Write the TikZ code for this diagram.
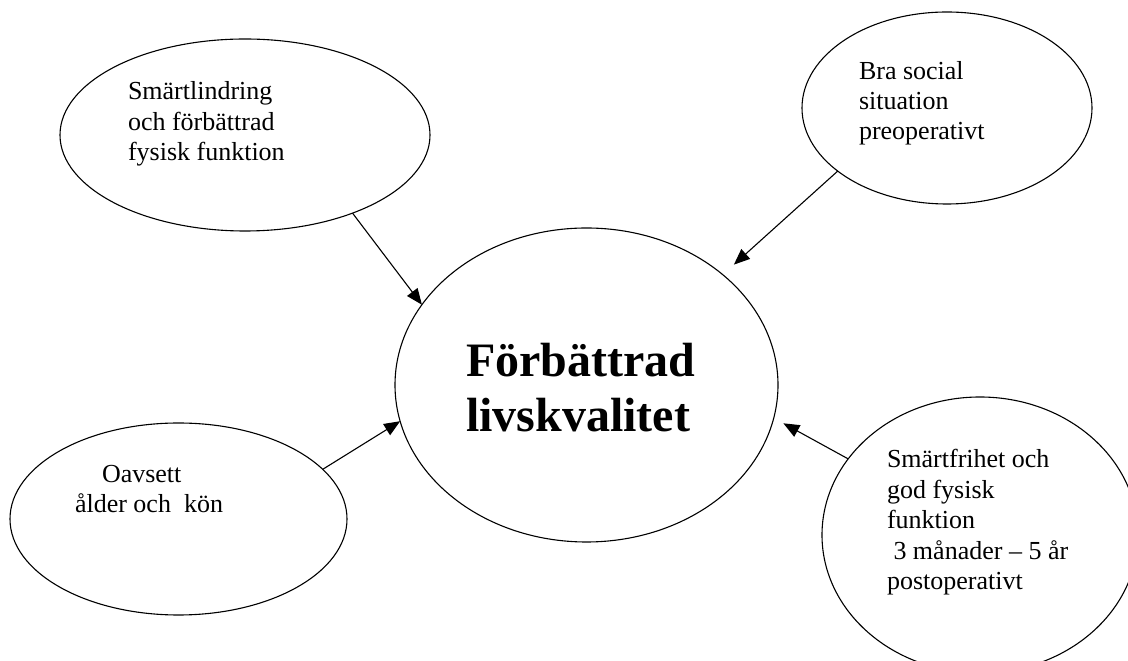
\documentclass[tikz,border=0pt]{standalone}
\usepackage{fontspec}
\setmainfont{Liberation Serif}
\usetikzlibrary{shapes.geometric,arrows.meta}
\tikzset{
  bubble/.style={draw=black, line width=1.1pt, ellipse, inner sep=0pt, outer sep=0pt},
  label/.style={anchor=base west, inner sep=0pt, outer sep=0pt, font=\fontsize{26}{30.5}\selectfont},
  title/.style={anchor=base west, inner sep=0pt, outer sep=0pt, font=\fontsize{48}{55}\selectfont\bfseries},
  conn/.style={draw=black, line width=1.1pt, -{Triangle[length=16pt,width=13pt]}}
}
\begin{document}
\begin{tikzpicture}[x=1pt,y=1pt]
\useasboundingbox (0,0) rectangle (1128,661);
% ellipses
\node[bubble, minimum width=370pt, minimum height=192pt] (tl) at (245,526) {};
\node[bubble, minimum width=290pt, minimum height=192pt] (tr) at (947,553) {};
\node[bubble, minimum width=383pt, minimum height=314pt] (c) at (586.5,276) {};
\node[bubble, minimum width=337pt, minimum height=192pt] (bl) at (178.5,142) {};
\node[bubble, minimum width=316pt, minimum height=276pt] (br) at (980,126) {};
% texts
\node[label] (tltext) at (128,561) {\vtop{\baselineskip=30.5pt\hbox{Smärtlindring}\hbox{och förbättrad}\hbox{fysisk funktion}}};
\node[label] (trtext) at (859,581) {\vtop{\baselineskip=30pt\hbox{Bra social}\hbox{situation}\hbox{preoperativt}}};
\node[title] (ctext) at (466,284) {\vtop{\baselineskip=55pt\hbox{Förbättrad}\hbox{livskvalitet}}};
\node[label] (bltext) at (75,178) {\vtop{\baselineskip=30pt\hbox{\hskip27pt Oavsett}\hbox{ålder och\ \ kön}}};
\node[label] (brtext) at (887,193) {\vtop{\baselineskip=30.5pt\hbox{Smärtfrihet och}\hbox{god fysisk}\hbox{funktion}\hbox{\ 3 månader – 5 år}\hbox{postoperativt}}};
% connectors
\draw[conn] (tl.-36.8) -- (c.154.1);
\draw[conn, shorten >=15pt] (tr.210.1) -- (c.39.9);
\draw[conn] (bl.19.4) -- (c.191.7);
\draw[conn, shorten >=11pt] (br.150.9) -- (c.-10.5);
\end{tikzpicture}
\end{document}
